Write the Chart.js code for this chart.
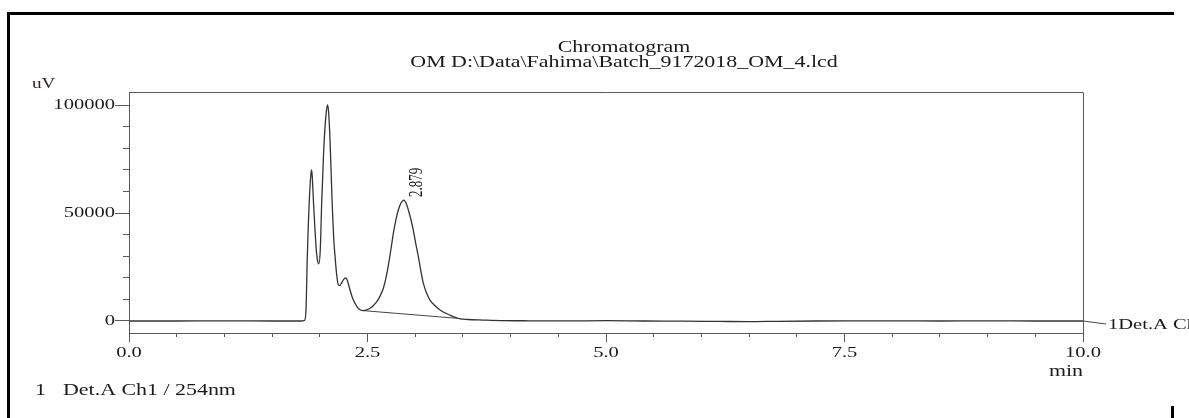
<!DOCTYPE html>
<html><head><meta charset="utf-8">
<script src="https://cdn.jsdelivr.net/npm/chart.js@4.4.0/dist/chart.umd.min.js"></script>
<style>html,body{margin:0;padding:0;background:#fff;} canvas{display:block;}</style>
</head><body>
<canvas id="c" width="1189" height="418"></canvas>
<script>
// ---------- data ----------
const titleLines = ['Chromatogram', 'OM D:\\Data\\Fahima\\Batch_9172018_OM_4.lcd'];
const xTickValues = [0, 2.5, 5, 7.5, 10];
const xTickLabels = ['0.0', '2.5', '5.0', '7.5', '10.0'];
const xMinorTickValues = [0, 0.5, 1, 1.5, 2, 2.5, 3, 3.5, 4, 4.5, 5, 5.5, 6, 6.5, 7, 7.5, 8, 8.5, 9, 9.5, 10];
const yTickValues = [0, 50000, 100000];
const yTickLabels = ['0', '50000', '100000'];
const yMinorTickValues = [0, 10000, 20000, 30000, 40000, 50000, 60000, 70000, 80000, 90000, 100000];
const xUnit = 'min';
const yUnit = 'uV';
const footerIndex = '1';
const footerText = 'Det.A Ch1 / 254nm';
const traceLabel = '1Det.A Ch1';
const retentionTimes = [0, 0.5, 1.0, 1.5, 1.80, 1.84, 1.855, 1.869, 1.880, 1.890, 1.900, 1.908, 1.915, 1.922, 1.935, 1.950, 1.965, 1.978, 1.990, 2.005, 2.020, 2.040, 2.055, 2.070, 2.083, 2.095, 2.107, 2.120, 2.131, 2.145, 2.160, 2.178, 2.195, 2.212, 2.230, 2.255, 2.275, 2.295, 2.317, 2.340, 2.369, 2.395, 2.421, 2.456, 2.490, 2.526, 2.560, 2.596, 2.630, 2.667, 2.693, 2.718, 2.745, 2.771, 2.800, 2.823, 2.850, 2.879, 2.905, 2.928, 2.955, 2.980, 3.005, 3.033, 3.060, 3.085, 3.120, 3.155, 3.200, 3.260, 3.310, 3.365, 3.420, 3.470, 3.550, 3.710, 3.900, 4.200, 4.600, 5.000, 5.400, 5.800, 6.200, 6.500, 6.800, 7.200, 7.600, 8.000, 8.500, 9.000, 9.500, 10.0];
const signal = [0, 0, 100, 0, 0, 300, 5000, 29800, 45000, 56000, 64000, 68500, 69900, 66000, 54000, 42000, 32000, 27500, 26500, 33000, 55000, 78000, 90000, 97500, 100000, 95000, 83800, 67000, 52900, 39000, 29800, 21000, 16700, 16500, 17800, 19500, 20000, 17800, 14350, 11000, 8200, 6300, 5200, 4800, 5100, 5900, 7100, 8800, 11400, 15300, 19800, 25600, 33000, 40600, 47300, 51400, 54500, 56000, 54500, 51400, 47000, 42100, 36000, 29800, 23000, 17500, 12800, 9700, 7400, 5100, 3800, 2700, 1700, 1000, 700, 450, 200, 100, 50, 150, 0, -50, -200, -300, -150, 0, 50, 100, 0, 100, 0, 0];
const baselineTimes = [2.456, 3.45];
const baselineValues = [4800, 1200];
const peakTime = 2.879;
const peakValue = 56000;
const peakLabel = '2.879';

// ---------- rendering ----------
const SERIF = "'Liberation Serif', 'Times New Roman', serif";
const SX = 1.37; // horizontal text stretch seen in the reference
const canvas = document.getElementById('c');
const ctx = canvas.getContext('2d');
const nativeFill = CanvasRenderingContext2D.prototype.fillText;
ctx.fillText = function (text, x, y) {
  this.save(); this.translate(x, y); this.scale(SX, 1);
  nativeFill.call(this, text, 0, 0); this.restore();
};

Chart.defaults.font.family = SERIF;
Chart.defaults.color = '#1a1a1a';

const AX = '#5a5a5a';
const decor = {
  id: 'decor',
  afterDraw(chart) {
    const c = chart.ctx, ca = chart.chartArea;
    const xs = chart.scales.x, ys = chart.scales.y;
    c.save();
    // outer frame fragments
    c.fillStyle = '#000';
    c.fillRect(7, 12, 1167, 3);
    c.fillRect(7, 12, 3, 406);
    c.fillRect(1171, 406, 3, 12);
    // plot box top & right
    c.strokeStyle = AX; c.lineWidth = 1;
    c.beginPath();
    c.moveTo(ca.left, Math.round(ca.top) + 0.5);
    c.lineTo(Math.round(ca.right) + 0.5, Math.round(ca.top) + 0.5);
    c.lineTo(Math.round(ca.right) + 0.5, ca.bottom);
    c.stroke();
    // y unit
    c.fillStyle = '#3a2020';
    c.font = '14px ' + SERIF; c.textAlign = 'left'; c.textBaseline = 'middle';
    c.fillText(yUnit, 32, 84);
    // footer
    c.fillStyle = '#1a1a1a';
    c.font = '16px ' + SERIF;
    c.fillText(footerIndex, 35, 391);
    c.fillText(footerText, 63, 391);
    // trace label at right
    const y0 = ys.getPixelForValue(0);
    c.strokeStyle = '#444';
    c.beginPath(); c.moveTo(ca.right, y0); c.lineTo(ca.right + 23, y0 + 3); c.stroke();
    c.font = '15px ' + SERIF;
    c.fillText(traceLabel, ca.right + 25, y0 + 4);
    // peak label (rotated)
    const px = xs.getPixelForValue(peakTime), py = ys.getPixelForValue(peakValue);
    c.translate(px + 14, py - 3);
    c.scale(SX, 1);
    c.rotate(-Math.PI / 2);
    c.font = '13px ' + SERIF; c.textAlign = 'left'; c.textBaseline = 'middle';
    nativeFill.call(c, peakLabel, 0, 0);
    c.restore();
  }
};

const Y_MIN = -5556, Y_MAX = 106019;
const setTicks = (vals) => (s) => { s.ticks = vals.map(v => ({value: v})); };

new Chart(ctx, {
  type: 'line',
  data: {
    datasets: [
      {
        label: traceLabel,
        data: retentionTimes.map((t, i) => ({x: t, y: signal[i]})),
        borderColor: '#333', borderWidth: 1.3, pointRadius: 0,
        cubicInterpolationMode: 'monotone', fill: false,
        xAxisID: 'x', yAxisID: 'y'
      },
      {
        label: 'baseline',
        data: baselineTimes.map((t, i) => ({x: t, y: baselineValues[i]})),
        borderColor: '#444', borderWidth: 1, pointRadius: 0, fill: false,
        xAxisID: 'x', yAxisID: 'y'
      }
    ]
  },
  options: {
    responsive: false,
    animation: false,
    devicePixelRatio: 1,
    layout: {padding: {left: 48, right: -11, top: 0, bottom: 0}},
    plugins: {
      legend: {display: false},
      tooltip: {enabled: false},
      title: {
        display: true, text: titleLines, color: '#1a1a1a',
        font: {family: SERIF, size: 16, weight: 'normal', lineHeight: 0.9375},
        padding: {top: 40, bottom: 22}
      }
    },
    scales: {
      x: {
        type: 'linear', position: 'bottom', min: 0, max: 10, weight: 1,
        afterBuildTicks: setTicks(xTickValues),
        ticks: {
          autoSkip: false, maxRotation: 0, padding: 2,
          font: {family: SERIF, size: 15}, color: '#1a1a1a',
          callback: (v) => { const i = xTickValues.indexOf(v); return i >= 0 ? xTickLabels[i] : ''; }
        },
        grid: {drawOnChartArea: false, drawTicks: true, tickLength: 9, color: AX},
        border: {display: true, color: AX},
        title: {display: true, text: xUnit, align: 'end', color: '#1a1a1a',
                font: {family: SERIF, size: 16}, padding: {top: 0, bottom: 37}},
        afterFit: (s) => { s.height = 85; }
      },
      xMinor: {
        type: 'linear', position: 'bottom', min: 0, max: 10, weight: 0,
        afterBuildTicks: setTicks(xMinorTickValues),
        ticks: {display: false, autoSkip: false},
        grid: {drawOnChartArea: false, drawTicks: true, tickLength: 4, color: AX},
        border: {display: false},
        afterFit: (s) => { s.height = 0; }
      },
      y: {
        type: 'linear', position: 'left', min: Y_MIN, max: Y_MAX, weight: 1,
        afterBuildTicks: setTicks(yTickValues),
        ticks: {
          padding: 0, autoSkip: false,
          font: {family: SERIF, size: 15}, color: '#1a1a1a',
          callback: (v) => { const i = yTickValues.indexOf(v); return i >= 0 ? yTickLabels[i] : ''; }
        },
        grid: {drawOnChartArea: false, drawTicks: true, tickLength: 14, color: AX},
        border: {display: true, color: AX},
        afterFit: (s) => { s.width = 81; }
      },
      yMinor: {
        type: 'linear', position: 'left', min: Y_MIN, max: Y_MAX, weight: 0,
        afterBuildTicks: setTicks(yMinorTickValues),
        ticks: {display: false, autoSkip: false},
        grid: {drawOnChartArea: false, drawTicks: true, tickLength: 6, color: AX},
        border: {display: false},
        afterFit: (s) => { s.width = 0; }
      },
      yRightSpace: {
        type: 'linear', position: 'right', display: true,
        ticks: {display: false}, grid: {display: false}, border: {display: false},
        afterFit: (s) => { s.width = 117; }
      }
    }
  },
  plugins: [decor]
});
</script>
</body></html>
